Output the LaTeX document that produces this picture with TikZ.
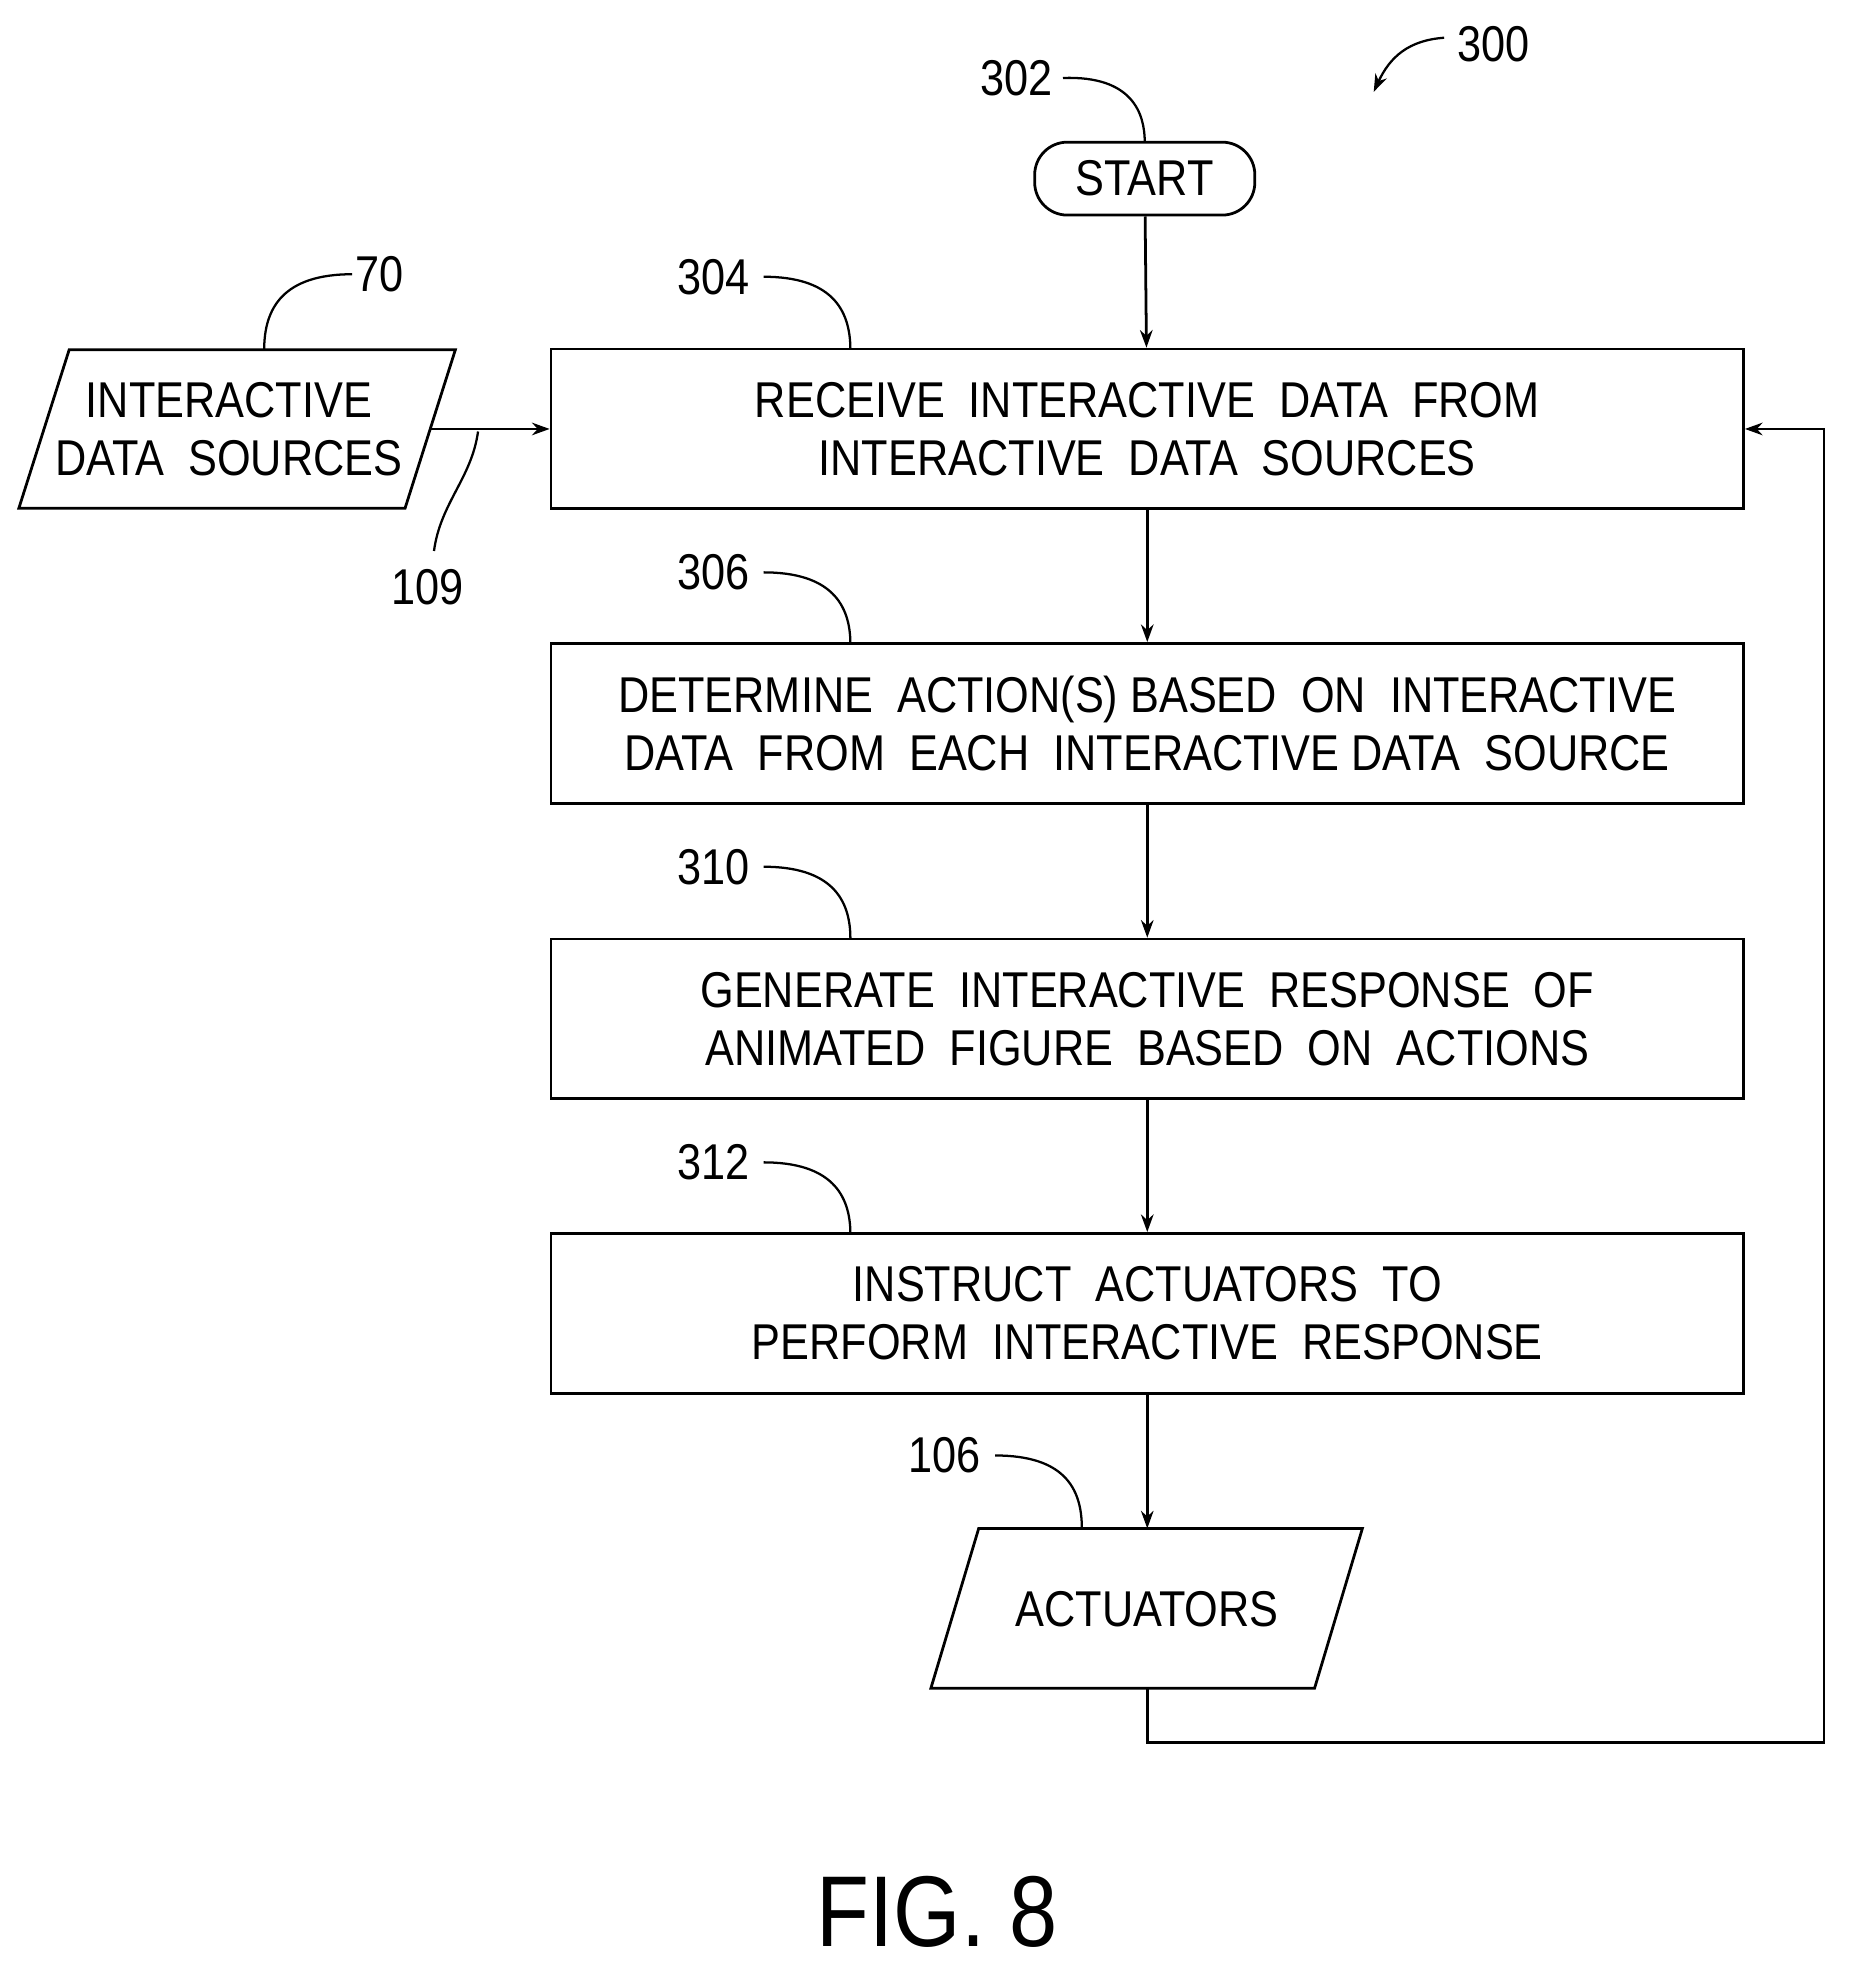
\documentclass[tikz,border=0pt]{standalone}
\usepackage{fontspec}
\setmainfont[FakeStretch=0.86]{Liberation Sans}
\usetikzlibrary{arrows.meta}
\begin{document}
\begin{tikzpicture}[x=1pt,y=-1pt,
  line width=2.2pt,
  box/.style={draw,minimum width=948pt,minimum height=127pt,align=center,font=\fontsize{40}{46}\selectfont},
  lbl/.style={font=\fontsize{40}{46}\selectfont},
  lead/.style={line width=1.8pt},
  arr/.style={-{Stealth[length=14pt,width=10pt]}}]
\useasboundingbox (0,0) rectangle (1470,1570);
\node[box] (b1) at (912,341) {RECEIVE\ \ INTERACTIVE\ \ DATA\ \ FROM\\INTERACTIVE\ \ DATA\ \ SOURCES};
\node[box] (b2) at (912,575) {DETERMINE\ \ ACTION(S) BASED\ \ ON\ \ INTERACTIVE\\DATA\ \ FROM\ \ EACH\ \ INTERACTIVE\ DATA\ \ SOURCE};
\node[box] (b3) at (912,810) {GENERATE\ \ INTERACTIVE\ \ RESPONSE\ \ OF\\ANIMATED\ \ FIGURE\ \ BASED\ \ ON\ \ ACTIONS};
\node[box] (b4) at (912,1044) {INSTRUCT\ \ ACTUATORS\ \ TO\\PERFORM\ \ INTERACTIVE\ \ RESPONSE};
\node[draw,rounded corners=26pt,minimum width=175pt,minimum height=58pt,lbl] (st) at (910,142) {START};
\draw (55,278) -- (362,278) -- (322,404) -- (15,404) -- cycle;
\node[lbl,align=center] (ids) at (182,341) {INTERACTIVE\\DATA\ \ SOURCES};
\coordinate (idsR) at (342,341);
\draw (778,1215) -- (1083,1215) -- (1045,1342) -- (740,1342) -- cycle;
\node[lbl] (act) at (912,1279) {ACTUATORS};
\coordinate (actB) at (912,1342);
\coordinate (c1) at (912,1385);
\coordinate (c2) at (1450,1385);
\coordinate (c3) at (1450,341);
\draw[arr] (st) -- (b1);
\draw[arr] (b1) -- (b2);
\draw[arr] (b2) -- (b3);
\draw[arr] (b3) -- (b4);
\draw[arr] (b4.south) -- (912,1215);
\draw[arr] (idsR) -- (b1.west);
\draw[arr] (actB) -- (c1) -- (c2) -- (c3) -- (b1.east);
% labels
\node[lbl] (l302) at (808,62) {302};
\draw[lead] (845,62) .. controls (900,60) and (910,90) .. (910,113);
\node[lbl] (l300) at (1187,35) {300};
\draw[lead,-{Stealth[length=14pt,width=10pt]}] (1148,30) .. controls (1120,32) and (1105,45) .. (1092,73);
\node[lbl] (l304) at (567,220) {304};
\draw[lead] (607,220) .. controls (660,220) and (676,245) .. (676,278);
\node[lbl] (l306) at (567,455) {306};
\draw[lead] (607,455) .. controls (660,455) and (676,480) .. (676,512);
\node[lbl] (l310) at (567,689) {310};
\draw[lead] (607,689) .. controls (660,689) and (676,714) .. (676,746);
\node[lbl] (l312) at (567,924) {312};
\draw[lead] (607,924) .. controls (660,924) and (676,949) .. (676,981);
\node[lbl] (l106) at (751,1157) {106};
\draw[lead] (791,1157) .. controls (845,1157) and (860,1182) .. (860,1215);
\node[lbl] (l70) at (302,218) {70};
\draw[lead] (280,218) .. controls (225,218) and (210,245) .. (210,278);
\node[lbl] (l109) at (340,467) {109};
\draw[lead] (380,343) .. controls (375,380) and (350,400) .. (345,438);
\node[font=\fontsize{80}{90}\selectfont] (fig) at (745,1520) {FIG. 8};
\end{tikzpicture}
\end{document}
